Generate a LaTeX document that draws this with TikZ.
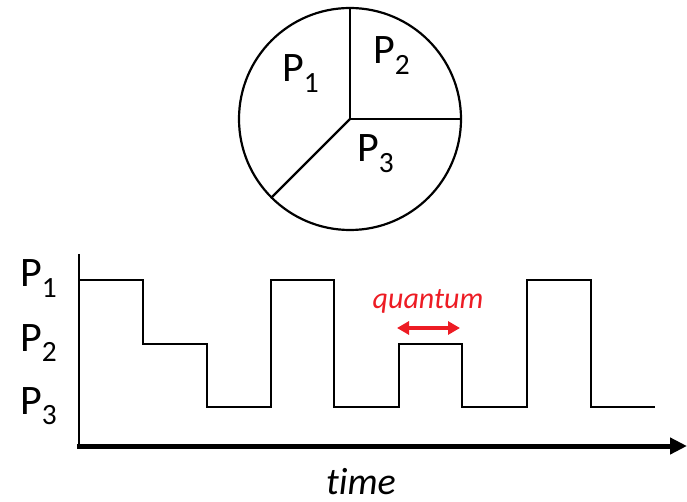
\documentclass[tikz,border=0pt]{standalone}
\usepackage{fontspec}
\setmainfont{Carlito}[Ligatures=NoCommon]
\usepackage{tikz}
\usetikzlibrary{arrows.meta, positioning, calc}
\definecolor{qred}{RGB}{237, 28, 36}

\begin{document}
\begin{tikzpicture}[
  x=1pt, y=-1pt,
  plabel/.style={font=\fontsize{42}{50}\selectfont, inner sep=0, anchor=base west},
  wire/.style={line width=2.2pt, line join=miter},
  slice/.style={circle, draw, line width=2.2pt, minimum size=222pt, inner sep=0, outer sep=0}
]
  \useasboundingbox (0,0) rectangle (687,502);

  % pie of processes
  \node[slice] (pie) at (350,119) {};
  \draw[wire] (pie.center) -- (pie.north);
  \draw[wire] (pie.center) -- (pie.east);
  \draw[wire] (pie.center) -- (pie.225);
  \node[plabel] (c1) at (282,82) {P\textsubscript{1}};
  \node[plabel] (c2) at (373,64) {P\textsubscript{2}};
  \node[plabel] (c3) at (357,162) {P\textsubscript{3}};

  % time axis
  \coordinate (top) at (79,254);
  \coordinate (origin) at (79,446);
  \coordinate (tend) at (687,446);
  \draw[line width=2.2pt] (top) -- (origin);
  \draw[line width=5pt, -{Triangle[length=17pt, width=16pt]}] ($(origin)+(-2,0)$) -- (tend);
  \node[font=\fontsize{38}{44}\selectfont\itshape, inner sep=0, anchor=base] (time) at (361,494) {time};

  % levels
  \node[plabel] (l1) at (20,287) {P\textsubscript{1}};
  \node[plabel] (l2) at (20,351) {P\textsubscript{2}};
  \node[plabel] (l3) at (20,414) {P\textsubscript{3}};

  % schedule
  \draw[wire] (80,280) -- (143,280) -- (143,344) -- (207,344) -- (207,407)
    -- (271,407) -- (271,280) -- (334,280) -- (334,407) -- (399,407)
    -- (399,344) -- (462,344) -- (462,407) -- (527,407) -- (527,280)
    -- (591,280) -- (591,407) -- (655,407);

  % quantum
  \coordinate (qa) at (397,328);
  \coordinate (qb) at (460,328);
  \draw[qred, line width=4pt, {Triangle[length=12pt, width=13pt]}-{Triangle[length=12pt, width=13pt]}] (qa) -- (qb);
  \node[font=\fontsize{30}{36}\selectfont\itshape, text=qred, inner sep=0, anchor=base] (quant) at (428,308) {quantum};
\end{tikzpicture}
\end{document}
